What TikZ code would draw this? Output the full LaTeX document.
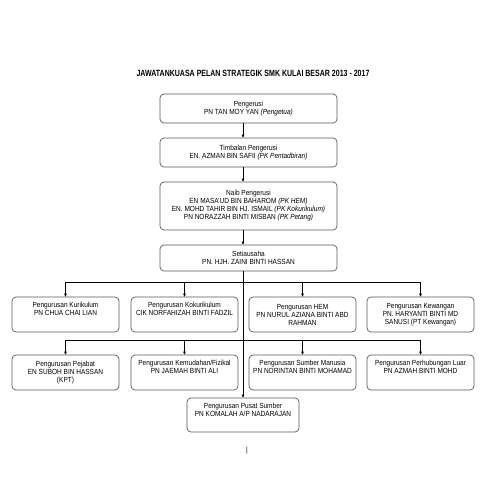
\documentclass[tikz,border=0pt]{standalone}
\usepackage{fontspec}
\setmainfont{Liberation Sans}[FakeStretch=0.88]
\newfontfamily\titlefont{Liberation Sans}[FakeStretch=0.78]
\usetikzlibrary{arrows.meta,calc}
\begin{document}
\begin{tikzpicture}[x=1pt,y=-1pt,
  box/.style={draw=black!65,line width=0.7pt,rounded corners=4pt,align=center,
    font=\fontsize{7.4}{8}\selectfont,inner sep=0pt,anchor=center},
  mainbox/.style={box,minimum width=177pt},
  subbox/.style={box,minimum width=107pt,minimum height=35pt},
  arr/.style={-{Triangle[length=3pt,width=2.6pt]},line width=0.7pt},
  ln/.style={line width=0.7pt}]
\useasboundingbox (0,0) rectangle (495,495);
\node[font=\titlefont\fontsize{9}{10}\selectfont\bfseries] (title) at (253,73) {JAWATANKUASA PELAN STRATEGIK SMK KULAI BESAR 2013 - 2017};
\node[mainbox,minimum height=29pt] (b1) at (248.5,108.5) {Pengerusi\\PN TAN MOY YAN \textit{(Pengetua)}};
\node[mainbox,minimum height=29pt] (b2) at (248.5,152.5) {Timbalan Pengerusi\\EN. AZMAN BIN SAFII \textit{(PK Pentadbiran)}};
\node[mainbox,minimum height=48pt] (b3) at (248.5,206) {Naib Pengerusi\\EN MASA'UD BIN BAHAROM \textit{(PK HEM)}\\EN. MOHD TAHIR BIN HJ. ISMAIL \textit{(PK Kokurikulum)}\\PN NORAZZAH BINTI MISBAN \textit{(PK Petang)}};
\node[mainbox,minimum height=26pt] (b4) at (248.5,258) {Setiausaha\\PN. HJH. ZAINI BINTI HASSAN};
\node[subbox] (a1) at (65.5,314.5) {Pengurusan Kurikulum\\PN CHUA CHAI LIAN\\\strut};
\node[subbox] (a2) at (184.5,314.5) {Pengurusan Kokurikulum\\CIK NORFAHIZAH BINTI FADZIL\\\strut};
\node[subbox] (a3) at (302.5,314.5) {Pengurusan HEM\\PN NURUL AZIANA BINTI ABD\\RAHMAN};
\node[subbox] (a4) at (420.5,314.5) {Pengurusan Kewangan\\PN. HARYANTI BINTI MD\\SANUSI (PT Kewangan)};
\node[subbox] (c1) at (65.5,372.5) {Pengurusan Pejabat\\EN SUBOH BIN HASSAN\\(KPT)};
\node[subbox] (c2) at (184.5,372.5) {Pengurusan Kemudahan/Fizikal\\PN JAEMAH BINTI ALI\\\strut};
\node[subbox] (c3) at (302.5,372.5) {Pengurusan Sumber Manusia\\PN NORINTAN BINTI MOHAMAD\\\strut};
\node[subbox] (c4) at (420.5,372.5) {Pengurusan Perhubungan Luar\\PN AZMAH BINTI MOHD\\\strut};
\node[box,minimum width=112pt,minimum height=34pt] (d1) at (243,415) {Pengurusan Pusat Sumber\\PN KOMALAH A/P NADARAJAN\\\strut};
\node[font=\fontsize{7.5}{8}\selectfont] (pg) at (247,451) {|};
\coordinate (h2) at (243,282);
\coordinate (h3) at (243,340);
\draw[arr] (b1.south -| d1) -- (b2.north -| d1);
\draw[arr] (b2.south -| d1) -- (b3.north -| d1);
\draw[arr] (b3.south -| d1) -- (b4.north -| d1);
\draw[arr] (b4.south -| d1) -- (d1.north);
\draw[ln] (h2 -| a1) -- (h2 -| a4);
\draw[ln] (h3 -| c1) -- (h3 -| c4);
\foreach \n in {a1,a2,a3,a4} \draw[arr] (h2 -| \n) -- (\n.north);
\foreach \n in {c1,c2,c3,c4} \draw[arr] (h3 -| \n) -- (\n.north);
\end{tikzpicture}
\end{document}
